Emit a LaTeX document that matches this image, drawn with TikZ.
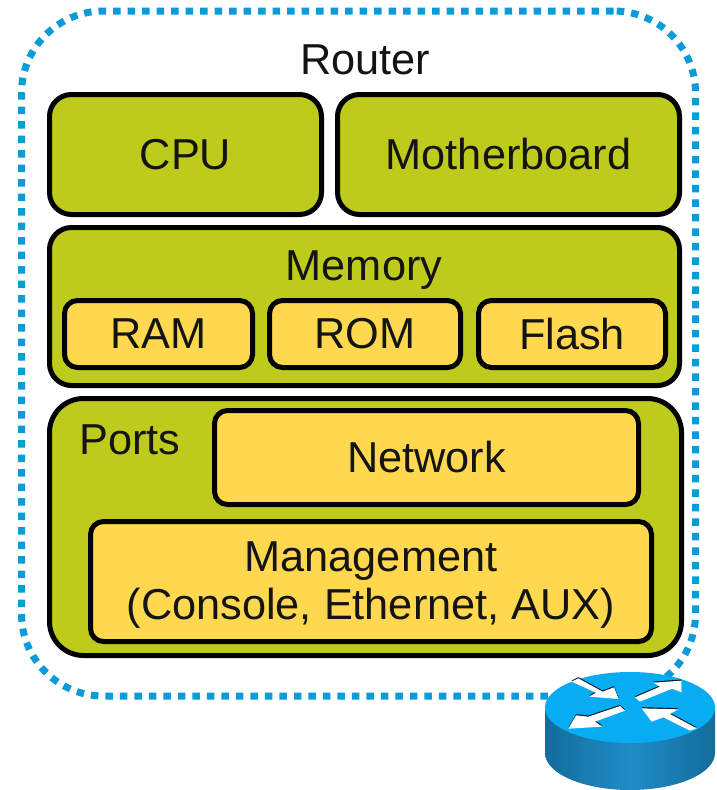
\documentclass[tikz,border=0pt]{standalone}
\usepackage{fontspec}
\setmainfont{Liberation Sans}
\definecolor{olive}{HTML}{BFCB1C}
\definecolor{butter}{HTML}{FFD84F}
\definecolor{dotblue}{HTML}{0A9BD8}
\definecolor{inktext}{HTML}{141414}
\definecolor{routertop}{HTML}{08ACF2}
\definecolor{routerdark}{HTML}{136C9C}
\definecolor{routermid}{HTML}{1F8CC6}
\tikzset{
  boxbase/.style={draw=black,line width=5pt,inner sep=0pt,text=inktext,font=\fontsize{43.3}{47.5}\selectfont,align=center},
  olivebox/.style={boxbase,fill=olive,rounded corners=22pt},
  butterbox/.style={boxbase,fill=butter,rounded corners=13pt},
  lbl/.style={text=inktext,font=\fontsize{43.3}{47.5}\selectfont,inner sep=0pt,align=center},
  arrowshape/.style={fill=white,draw=none},
  arrowedge/.style={fill=black,draw=none,opacity=.85}
}
\newcommand{\placebox}[7]{% style, name, x1, y1, x2, y2, text
  \node[#1,minimum width=#5pt-#3pt-3pt,minimum height=#6pt-#4pt-3pt] (#2) at ({(#3+#5)/2},{(#4+#6)/2}) {#7};}
\newcommand{\arrowpoly}[1]{%
  \fill[arrowedge,shift={(0,-3.5)}] #1 -- cycle;
  \fill[arrowshape] #1 -- cycle;}
\begin{document}
\begin{tikzpicture}[x=1pt,y=-1pt]
\useasboundingbox (0,0) rectangle (717,790);
\fill[white] (0,0) rectangle (717,790);
% dotted enclosure
\node[draw=dotblue,line width=7pt,dash pattern=on 7.5pt off 7pt,rounded corners=82pt,
      minimum width=674pt,minimum height=685pt,inner sep=0pt] (enclosure) at (358.5,353.5) {};
\node[lbl] (router) at (365,60) {Router};
% top row
\placebox{olivebox}{cpu}{48}{93}{323}{216}{CPU}
\placebox{olivebox}{board}{336}{93}{681}{216}{Motherboard}
% memory
\placebox{olivebox}{memory}{48}{226}{681}{387}{}
\node[lbl] (memlabel) at (364,270) {Memory};
\placebox{butterbox}{ram}{63}{299}{254}{369}{RAM}
\placebox{butterbox}{rom}{268}{299}{462}{369}{ROM}
\placebox{butterbox}{flash}{477}{299}{667}{369}{Flash}
% ports
\node[boxbase,fill=olive,rounded corners=34pt,minimum width=632pt,minimum height=257pt] (ports) at (365.5,527) {};
\node[lbl] (portlabel) at (130,440) {Ports};
\placebox{butterbox}{network}{213}{409}{640}{506}{Network}
\placebox{butterbox}{mgmt}{89}{520}{653}{643}{}
\node[lbl] (mgmtlabel) at (371,585) {Management\\(Console, Ethernet, AUX)};
% router icon
\shade[left color=routerdark,right color=routerdark,middle color=routermid]
  (545,710) -- (545,753) arc[start angle=180,end angle=0,x radius=85,y radius=37] -- (715,710) -- cycle;
\fill[routertop] (630,707.5) ellipse[x radius=85,y radius=35.5];
\begin{scope}[shift={(520,640)},x=.3333pt,y=-.3333pt]
  \arrowpoly{(155,125) -- (175,115) -- (248,155) -- (282,142) -- (296,177) -- (208,170) -- (228,158)}
  \arrowpoly{(345,172) -- (420,140) -- (400,128) -- (485,122) -- (485,157) -- (456,146) -- (360,185)}
  \arrowpoly{(300,198) -- (315,212) -- (225,245) -- (247,260) -- (145,266) -- (168,226) -- (205,230)}
  \arrowpoly{(530,265) -- (510,272) -- (430,232) -- (395,245) -- (365,205) -- (475,208) -- (450,222)}
\end{scope}
\end{tikzpicture}
\end{document}
